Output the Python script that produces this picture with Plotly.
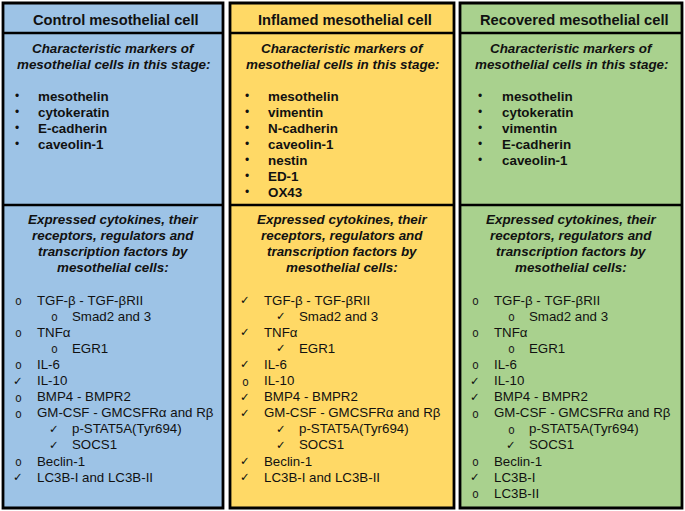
import plotly.graph_objects as go

W, H = 685, 511

# ---- content ----
titles = ["Control mesothelial cell", "Inflamed mesothelial cell", "Recovered mesothelial cell"]
panel_colors = ["#9DC3E6", "#FFD966", "#A9D18E"]

marker_header = ["Characteristic markers of", "mesothelial cells in this stage:"]
markers_control = ["mesothelin", "cytokeratin", "E-cadherin", "caveolin-1"]
markers_inflamed = ["mesothelin", "vimentin", "N-cadherin", "caveolin-1", "nestin", "ED-1", "OX43"]
markers_recovered = ["mesothelin", "cytokeratin", "vimentin", "E-cadherin", "caveolin-1"]

cyto_header = ["Expressed cytokines, their", "receptors, regulators and",
               "transcription factors by", "mesothelial cells:"]

# (symbol, level, label)   symbol: "o" = not expressed, "v" = expressed
cyto_control = [
    ("o", 0, "TGF-β - TGF-βRII"), ("o", 1, "Smad2 and 3"), ("o", 0, "TNFα"), ("o", 1, "EGR1"),
    ("o", 0, "IL-6"), ("v", 0, "IL-10"), ("o", 0, "BMP4 - BMPR2"),
    ("o", 0, "GM-CSF - GMCSFRα and Rβ"), ("v", 1, "p-STAT5A(Tyr694)"), ("v", 1, "SOCS1"),
    ("o", 0, "Beclin-1"), ("v", 0, "LC3B-I and LC3B-II"),
]
cyto_inflamed = [
    ("v", 0, "TGF-β - TGF-βRII"), ("v", 1, "Smad2 and 3"), ("v", 0, "TNFα"), ("v", 1, "EGR1"),
    ("v", 0, "IL-6"), ("o", 0, "IL-10"), ("v", 0, "BMP4 - BMPR2"),
    ("v", 0, "GM-CSF - GMCSFRα and Rβ"), ("v", 1, "p-STAT5A(Tyr694)"), ("v", 1, "SOCS1"),
    ("v", 0, "Beclin-1"), ("v", 0, "LC3B-I and LC3B-II"),
]
cyto_recovered = [
    ("o", 0, "TGF-β - TGF-βRII"), ("o", 1, "Smad2 and 3"), ("o", 0, "TNFα"), ("o", 1, "EGR1"),
    ("o", 0, "IL-6"), ("v", 0, "IL-10"), ("v", 0, "BMP4 - BMPR2"),
    ("o", 0, "GM-CSF - GMCSFRα and Rβ"), ("o", 1, "p-STAT5A(Tyr694)"), ("v", 1, "SOCS1"),
    ("o", 0, "Beclin-1"), ("v", 0, "LC3B-I"), ("o", 0, "LC3B-II"),
]

markers = [markers_control, markers_inflamed, markers_recovered]
cytos = [cyto_control, cyto_inflamed, cyto_recovered]

# ---- layout geometry ----
panels_x = [(3, 223), (230, 454), (460, 682)]
top, div1, div2, bottom = 3, 33, 205, 508
marker_offsets = [(14, 33), (17, 36), (20, 40)]   # bullet x, text x relative to panel left
FONT = "Liberation Sans, Arial, sans-serif"
TXT = "#111111"

fig = go.Figure()
shapes, ann = [], []

for i, (x0, x1) in enumerate(panels_x):
    shapes.append(dict(type="rect", x0=x0, x1=x1, y0=top, y1=bottom, xref="x", yref="y",
                       fillcolor=panel_colors[i], line=dict(color="#000", width=2.8), layer="below"))
    for yy in (div1, div2):
        shapes.append(dict(type="line", x0=x0, x1=x1, y0=yy, y1=yy, xref="x", yref="y",
                           line=dict(color="#000", width=2.5)))
    cx = (x0 + x1) / 2
    ann.append(dict(x=cx + 3, y=19.5, text="<b>%s</b>" % titles[i], showarrow=False,
                    xanchor="center", yanchor="middle", font=dict(family=FONT, size=14.7, color=TXT)))
    for k, line in enumerate(marker_header):
        ann.append(dict(x=cx, y=48 + 16.5 * k, text="<b><i>%s</i></b>" % line, showarrow=False,
                        xanchor="center", yanchor="middle", font=dict(family=FONT, size=13.4, color=TXT)))
    bx, tx = marker_offsets[i]
    for k, m in enumerate(markers[i]):
        y = 96 + 16 * k
        ann.append(dict(x=x0 + bx, y=y, text="•", showarrow=False, xanchor="center", yanchor="middle",
                        font=dict(family=FONT, size=12, color=TXT)))
        ann.append(dict(x=x0 + tx, y=y, text="<b>%s</b>" % m, showarrow=False, xanchor="left",
                        yanchor="middle", font=dict(family=FONT, size=13.4, color=TXT)))
    for k, line in enumerate(cyto_header):
        ann.append(dict(x=cx, y=219 + 16 * k, text="<b><i>%s</i></b>" % line, showarrow=False,
                        xanchor="center", yanchor="middle", font=dict(family=FONT, size=13.4, color=TXT)))
    for k, (sym, lvl, label) in enumerate(cytos[i]):
        y = 300 + 16.1 * k
        sx = x0 + (15 if lvl == 0 else 51)
        tx2 = x0 + (32 if lvl == 0 else 67)
        if sym == "v":
            ann.append(dict(x=sx, y=y, text="✓", showarrow=False, xanchor="center", yanchor="middle",
                            font=dict(family="DejaVu Sans", size=11.5, color=TXT)))
        else:
            ann.append(dict(x=sx, y=y + 1, text="o", showarrow=False, xanchor="center", yanchor="middle",
                            font=dict(family="DejaVu Sans Mono, Liberation Mono", size=11.5, color="#222")))
        ann.append(dict(x=tx2, y=y, text=label, showarrow=False, xanchor="left", yanchor="middle",
                        font=dict(family=FONT, size=13.3, color=TXT)))

fig.update_layout(
    width=W, height=H, margin=dict(l=0, r=0, t=0, b=0),
    paper_bgcolor="white", plot_bgcolor="white",
    xaxis=dict(range=[0, W], visible=False, fixedrange=True),
    yaxis=dict(range=[H, 0], visible=False, fixedrange=True),
    shapes=shapes, annotations=ann, showlegend=False,
)
fig.write_html("out.html", config={"displayModeBar": False},
               post_script="document.body.style.margin='0';document.body.style.padding='0';")
